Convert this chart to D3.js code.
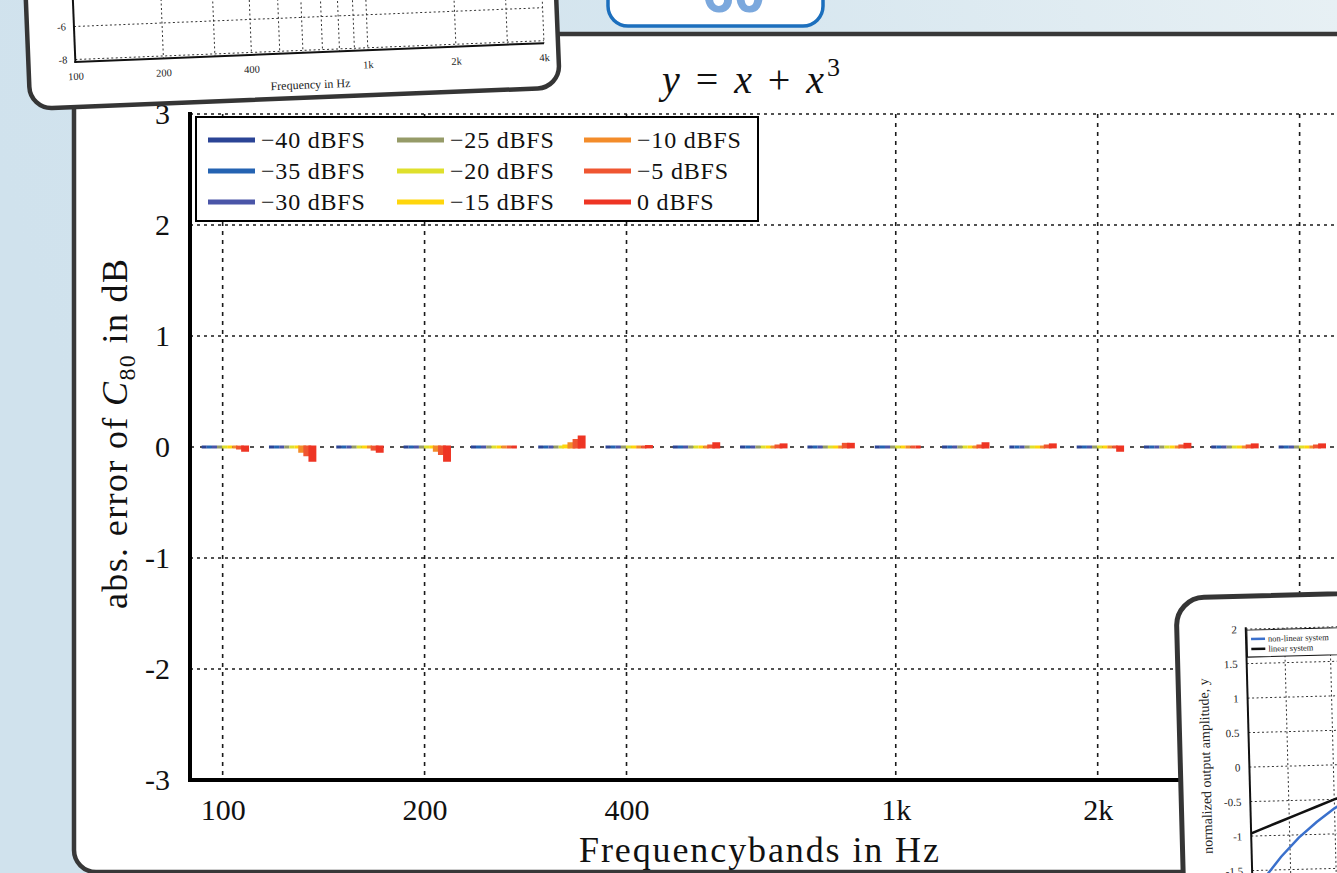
<!DOCTYPE html>
<html>
<head>
<meta charset="utf-8">
<script src="https://cdn.jsdelivr.net/npm/d3@7"></script>
<style>
  html, body { margin: 0; padding: 0; overflow: hidden; background: #d4e4ee; }
  svg { display: block; }
</style>
</head>
<body>
<svg id="c" width="1337" height="873"></svg>
<script>
// ---- data -------------------------------------------------------------
// third-octave band centres (Hz)
const bands = ["100","125","160","200","250","315","400","500","630","800",
               "1k","1.25k","1.6k","2k","2.5k","3.15k","4k"];
// labelled band positions on the axis
const tickBands = ["100","200","400","1k","2k","4k"];
const yTickValues = [-3, -2, -1, 0, 1, 2, 3];

// signal levels (legend entries)
const levels = ["\u221240 dBFS","\u221235 dBFS","\u221230 dBFS",
                "\u221225 dBFS","\u221220 dBFS","\u221215 dBFS",
                "\u221210 dBFS","\u22125 dBFS","0 dBFS"];

// absolute error of C80 (dB) per band, one array per level
const errM40 = [0,0,0,0,0,0,0,0,0,0,0,0,0,0,0,0,0];
const errM35 = [0,0,0,0,0,0,0,0,0,0,0,0,0,0,0,0,0];
const errM30 = [0,0,0,0,0,0,0,0,0,0,0,0,0,0,0,0,0];
const errM25 = [0,0,0,0,0,0,0,0,0,0,0,0,0,0,0,0,0];
const errM20 = [0,0,0,0,0,0,0,0,0,0,0,0,0,0,0,0,0];
const errM15 = [0,0,0,0,0,0.01,0,0,0,0,0,0,0,0,0,0,0];
const errM10 = [0,-0.04,0,-0.03,0,0.03,0,0,0,0,0,0,0,0,0,0,0];
const errM5  = [-0.01,-0.07,-0.02,-0.06,0,0.06,0,0.01,0.01,0.025,0,0.01,0.01,0,0.01,0.01,0.01];
const err0   = [-0.03,-0.12,-0.04,-0.12,0,0.09,0.005,0.03,0.02,0.025,0,0.03,0.02,-0.03,0.025,0.02,0.02];
const errSeries = [errM40, errM35, errM30, errM25, errM20, errM15, errM10, errM5, err0];

// small inset: input/output curves of y = x + x^3 against the linear system
const insetX      = [-1, -0.9, -0.8, -0.7, -0.6, -0.5, -0.4, -0.3, -0.2, -0.1, 0];
const insetLinear = [-1, -0.9, -0.8, -0.7, -0.6, -0.5, -0.4, -0.3, -0.2, -0.1, 0];
const insetNonlin = [-2, -1.63, -1.31, -1.04, -0.82, -0.63, -0.46, -0.33, -0.21, -0.1, 0];
const insetYTicks = [-1.5, -1, -0.5, 0, 0.5, 1, 1.5, 2];

// small inset: frequency axis
const freqTicks = [100, 200, 400, 1000, 2000, 4000];
const freqTickLabels = ["100", "200", "400", "1k", "2k", "4k"];
const freqGrid = [200,300,400,500,600,700,800,900,1000,2000,3000,4000];
const levelGrid = [-8, -6, -4];
const levelLabels = [-8, -6];

// ---- styling ----------------------------------------------------------
const levelColors = ["#2b4496","#2463b2","#4a55a8","#969b68","#dfe02c",
                     "#ffd60c","#f38c2a","#ef5631","#ee3524"];
const SERIF = "'Liberation Serif', 'Times New Roman', serif";

const W = 1337, H = 873;
const svg = d3.select("#c");
const defs = svg.append("defs");

// page background
const bg = defs.append("linearGradient").attr("id", "bg")
  .attr("x1", 0).attr("y1", 0.2).attr("x2", 1).attr("y2", 0);
bg.append("stop").attr("offset", 0).attr("stop-color", "#d0e2ed");
bg.append("stop").attr("offset", 0.55).attr("stop-color", "#d6e6ef");
bg.append("stop").attr("offset", 1).attr("stop-color", "#e7f0f4");
svg.append("rect").attr("width", W).attr("height", H).attr("fill", "url(#bg)");

// main card
svg.append("rect")
  .attr("x", 74).attr("y", 34).attr("width", 1420).attr("height", 838).attr("rx", 22)
  .attr("fill", "#ffffff").attr("stroke", "#383838").attr("stroke-width", 4.5);

// ---- main chart -------------------------------------------------------
const x = d3.scaleLinear().domain([-0.5, 16.6]).range([189, 1340]);
const y = d3.scaleLinear().domain([-3, 3]).range([780, 114]);
const inner = d3.scaleBand().domain(d3.range(levels.length)).range([-21, 25]).padding(0);

const chart = svg.append("g");

// dotted grid
const grid = chart.append("g").attr("stroke", "#1a1a1a").attr("stroke-width", 1.6)
  .attr("fill", "none");
grid.selectAll("line.h").data(yTickValues.filter(v => v > -3)).join("line")
  .attr("x1", 190).attr("x2", 1340)
  .attr("y1", d => y(d)).attr("y2", d => y(d))
  .attr("stroke-dasharray", d => d === 0 ? "4,6" : "3,4");
grid.selectAll("line.v").data(tickBands.map(b => bands.indexOf(b))).join("line")
  .attr("x1", d => x(d)).attr("x2", d => x(d))
  .attr("y1", y(3)).attr("y2", y(-3))
  .attr("stroke-dasharray", "4,5");

// grouped bars (drawn as outlined paths so near-zero bars stay visible)
const barData = [];
errSeries.forEach((arr, li) => arr.forEach((v, bi) => barData.push({ li, bi, v })));
const bw = inner.bandwidth();
chart.append("g").selectAll("path").data(barData).join("path")
  .attr("d", d => {
    const x0 = x(d.bi) + inner(d.li), x1 = x0 + bw;
    return `M${x0},${y(0)}H${x1}V${y(d.v)}H${x0}Z`;
  })
  .attr("fill", d => levelColors[d.li])
  .attr("stroke", d => levelColors[d.li])
  .attr("stroke-width", 2.8);

// axes
const yAxis = d3.axisLeft(y).tickValues(yTickValues).tickFormat(d => String(d))
  .tickSize(0).tickPadding(20);
const gy = chart.append("g").attr("transform", "translate(190,0)").call(yAxis);
gy.select(".domain").remove();
gy.selectAll("text").attr("font-family", SERIF).attr("font-size", 30).attr("fill", "#111");

const xAxis = d3.axisBottom(x).tickValues(tickBands.map(b => bands.indexOf(b)))
  .tickFormat(d => bands[d]).tickSize(0).tickPadding(19);
const gx = chart.append("g").attr("transform", "translate(0,780)").call(xAxis);
gx.select(".domain").remove();
gx.selectAll("text").attr("font-family", SERIF).attr("font-size", 30).attr("fill", "#111");

chart.append("line").attr("x1", 190).attr("x2", 190).attr("y1", 112).attr("y2", 782)
  .attr("stroke", "#000").attr("stroke-width", 4);
chart.append("line").attr("x1", 188).attr("x2", 1340).attr("y1", 780).attr("y2", 780)
  .attr("stroke", "#000").attr("stroke-width", 4);

// legend
const lg = chart.append("g");
lg.append("rect").attr("x", 196).attr("y", 117).attr("width", 562).attr("height", 104)
  .attr("fill", "#fff").attr("stroke", "#000").attr("stroke-width", 2);
const colX = [208, 397, 584], rowY = [140, 171, 202];
const items = lg.selectAll("g.item").data(levels).join("g")
  .attr("transform", (d, i) => `translate(${colX[Math.floor(i / 3)]},${rowY[i % 3]})`);
items.append("line").attr("x1", 0).attr("x2", 47).attr("y1", 0).attr("y2", 0)
  .attr("stroke", (d, i) => levelColors[i]).attr("stroke-width", 5);
items.append("text").attr("x", 53).attr("y", 8).text(d => d)
  .attr("font-family", SERIF).attr("font-size", 24).attr("letter-spacing", 0.8).attr("fill", "#111");

// title
const title = chart.append("text").attr("x", 751).attr("y", 93).attr("text-anchor", "middle")
  .attr("font-family", SERIF).attr("font-size", 40).attr("fill", "#111")
  .attr("textLength", 178).attr("lengthAdjust", "spacing");
title.append("tspan").attr("font-style", "italic").text("y");
title.append("tspan").text(" = ");
title.append("tspan").attr("font-style", "italic").text("x");
title.append("tspan").text(" + ");
title.append("tspan").attr("font-style", "italic").text("x");
title.append("tspan").attr("font-size", 26).attr("dy", -17).text("3");

// y label
const yl = chart.append("text").attr("transform", "translate(127,434) rotate(-90)")
  .attr("text-anchor", "middle").attr("font-family", SERIF).attr("font-size", 36)
  .attr("fill", "#111").attr("textLength", 350).attr("lengthAdjust", "spacing");
yl.append("tspan").text("abs. error of ");
yl.append("tspan").attr("font-style", "italic").text("C");
yl.append("tspan").attr("font-size", 24).attr("dy", 8).text("80");
yl.append("tspan").attr("dy", -8).text(" in dB");

// x label
chart.append("text").attr("x", 759).attr("y", 862).attr("text-anchor", "middle")
  .attr("font-family", SERIF).attr("font-size", 36).attr("fill", "#111")
  .attr("textLength", 360).attr("lengthAdjust", "spacing")
  .text("Frequencybands in Hz");

// ---- top tab ----------------------------------------------------------
svg.append("rect").attr("x", 608).attr("y", -40).attr("width", 215).attr("height", 66)
  .attr("rx", 20).attr("fill", "#fff").attr("stroke", "#1c6fbd").attr("stroke-width", 3.5);
svg.append("text").attr("x", 734).attr("y", 12).attr("text-anchor", "middle")
  .attr("font-family", "'Open Sans', sans-serif").attr("font-weight", 700)
  .attr("font-size", 54).attr("fill", "#7ba8dd").text("60");

// ---- inset: level response over frequency (top left) -----------------
const tl = svg.append("g").attr("transform", "rotate(-2.3,300,98)");
tl.append("rect").attr("x", 30).attr("y", -300).attr("width", 530).attr("height", 398)
  .attr("rx", 22).attr("fill", "#fff").attr("stroke", "#353535").attr("stroke-width", 4.5);
const fx = d3.scaleLog().domain([100, 4000]).range([77, 546]);
const fy = d3.scaleLinear().domain([-8.15, -4]).range([53, -15.5]);
const tlg = tl.append("g").attr("stroke", "#333").attr("stroke-width", 1).attr("fill", "none")
  .attr("stroke-dasharray", "2,2.5");
tlg.selectAll("line.v").data(freqGrid).join("line")
  .attr("x1", d => fx(d)).attr("x2", d => fx(d)).attr("y1", -200).attr("y2", 53);
tlg.selectAll("line.h").data(levelGrid).join("line")
  .attr("x1", 77).attr("x2", 546).attr("y1", d => fy(d)).attr("y2", d => fy(d));
tl.append("line").attr("x1", 77).attr("x2", 77).attr("y1", -200).attr("y2", 54)
  .attr("stroke", "#111").attr("stroke-width", 2);
tl.append("line").attr("x1", 76).attr("x2", 546).attr("y1", 53).attr("y2", 53)
  .attr("stroke", "#111").attr("stroke-width", 2);
tl.selectAll("text.yt").data(levelLabels).join("text")
  .attr("x", 69).attr("y", d => fy(d) + 3.5).attr("text-anchor", "end")
  .attr("font-family", SERIF).attr("font-size", 10.5).attr("fill", "#222").text(d => String(d));
tl.selectAll("text.xt").data(freqTicks).join("text")
  .attr("x", d => fx(d)).attr("y", 71).attr("text-anchor", "middle")
  .attr("font-family", SERIF).attr("font-size", 10.5).attr("fill", "#222")
  .text((d, i) => freqTickLabels[i]);
tl.append("text").attr("x", 311).attr("y", 89).attr("text-anchor", "middle")
  .attr("font-family", SERIF).attr("font-size", 12).attr("fill", "#222")
  .text("Frequency in Hz");

// ---- inset: input/output characteristic (bottom right) -----------------
const br = svg.append("g").attr("transform", "rotate(-1.5,1175,600)");
br.append("rect").attr("x", 1176).attr("y", 598).attr("width", 420).attr("height", 420)
  .attr("rx", 28).attr("fill", "#fff").attr("stroke", "#353535").attr("stroke-width", 5);
const ax = d3.scaleLinear().domain([-1, 1]).range([1238, 1602]);
const ay = d3.scaleLinear().domain([-2, 2]).range([907, 631]);
defs.append("clipPath").attr("id", "brclip").append("rect")
  .attr("x", 1245).attr("y", 631).attr("width", 300).attr("height", 300);
const brg = br.append("g").attr("stroke", "#333").attr("stroke-width", 1).attr("fill", "none")
  .attr("stroke-dasharray", "2,2.5");
brg.selectAll("line.h").data(insetYTicks).join("line")
  .attr("x1", 1245).attr("x2", 1500).attr("y1", d => ay(d)).attr("y2", d => ay(d));
brg.selectAll("line.v").data([-0.75, -0.5]).join("line")
  .attr("x1", d => ax(d)).attr("x2", d => ax(d)).attr("y1", 631).attr("y2", 900);
const lineGen = d3.line().x(d => ax(d[0])).y(d => ay(d[1]));
const plotClip = br.append("g").attr("clip-path", "url(#brclip)");
plotClip.append("path").datum(insetX.map((v, i) => [v, insetLinear[i]]))
  .attr("d", lineGen).attr("fill", "none").attr("stroke", "#111").attr("stroke-width", 2.5);
plotClip.append("path").datum(insetX.map((v, i) => [v, insetNonlin[i]]))
  .attr("d", lineGen).attr("fill", "none").attr("stroke", "#3a70cc").attr("stroke-width", 2.5);
br.append("line").attr("x1", 1245).attr("x2", 1245).attr("y1", 629).attr("y2", 900)
  .attr("stroke", "#111").attr("stroke-width", 2);
br.selectAll("text.yt").data(insetYTicks).join("text")
  .attr("x", 1236).attr("y", d => ay(d) + 4).attr("text-anchor", "end")
  .attr("font-family", SERIF).attr("font-size", 11).attr("fill", "#222").text(d => String(d));
br.append("text").attr("transform", "translate(1206,679) rotate(-90)")
  .attr("text-anchor", "end").attr("font-family", SERIF).attr("font-size", 14)
  .attr("fill", "#222").text("normalized output amplitude, y");
const brl = br.append("g");
brl.append("rect").attr("x", 1246).attr("y", 632).attr("width", 200).attr("height", 27)
  .attr("fill", "#fff").attr("stroke", "#111").attr("stroke-width", 1);
const brItems = [["non-linear system", "#3a70cc"], ["linear system", "#111"]];
brItems.forEach((it, i) => {
  brl.append("line").attr("x1", 1250).attr("x2", 1264).attr("y1", 641 + i * 10).attr("y2", 641 + i * 10)
    .attr("stroke", it[1]).attr("stroke-width", 2.5);
  brl.append("text").attr("x", 1267).attr("y", 644 + i * 10)
    .attr("font-family", SERIF).attr("font-size", 8.5).attr("fill", "#222").text(it[0]);
});
</script>
</body>
</html>
